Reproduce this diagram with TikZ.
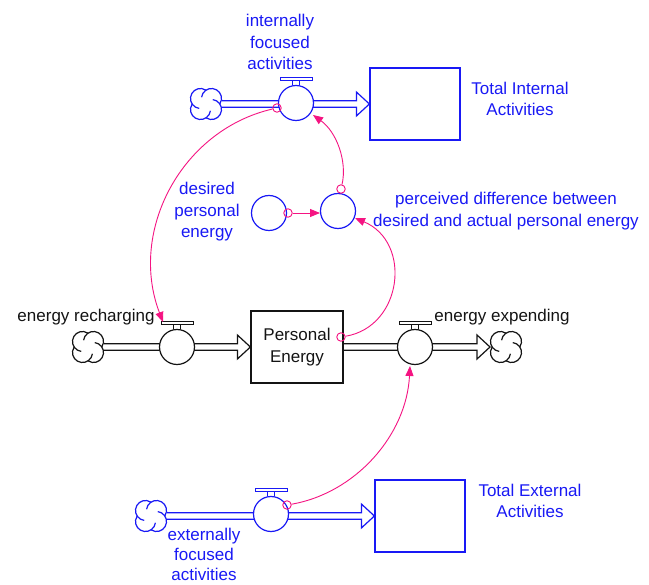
\documentclass[tikz,border=0pt]{standalone}
\usepackage{fontspec}
\setmainfont{Liberation Sans}
\usetikzlibrary{calc,arrows.meta}
\definecolor{vblue}{RGB}{25,25,245}
\definecolor{vpink}{RGB}{245,20,130}
\definecolor{vblack}{RGB}{20,20,20}
\newcommand\flowpipe[3]{%
  \draw[#3, line width=1.2pt, line join=miter]
    ($(#1)+(0,-3.2)$) -- ($(#2)+(-13,-3.2)$) -- ($(#2)+(-13,-12)$) -- (#2)
    -- ($(#2)+(-13,12)$) -- ($(#2)+(-13,3.2)$) -- ($(#1)+(0,3.2)$);}
\newcommand\valvetop[2]{%
  \draw[#2, line width=1pt, fill=white] ($(#1.north)+(-16,-7.5)$) rectangle ($(#1.north)+(16,-4)$);
  \draw[#2, line width=1pt] ($(#1.north)+(-3.3,-4)$) -- ($(#1.north)+(-3.3,0)$)
    ($(#1.north)+(3.3,-4)$) -- ($(#1.north)+(3.3,0)$);}
\tikzset{
  lbl/.style={font=\fontsize{17}{21.5}\selectfont, align=center, inner sep=0pt},
  lbltight/.style={font=\fontsize{17}{20}\selectfont, align=center, inner sep=0pt},
  valvenode/.style={circle, draw=#1, fill=white, line width=1.2pt, minimum size=35pt, inner sep=0pt},
  boxnode/.style={rectangle, draw=#1, fill=white, line width=1.2pt, minimum width=90pt, minimum height=72pt, inner sep=0pt},
  auxnode/.style={circle, draw=vblue, fill=white, line width=1.2pt, minimum size=35pt, inner sep=0pt},
  originnode/.style={circle, draw=vpink, line width=0.9pt, minimum size=8.5pt, inner sep=0pt},
  conn/.style={vpink, line width=0.9pt, -{Triangle[length=10pt,width=8pt]}},
  pics/cloudicon/.style={code={
    \foreach \p in {45,135,225,315}{
      \pgfmathsetmacro\cs{\p-128}
      \pgfmathsetmacro\ce{\p+78.4}
      \draw (\p:7.8) ++(\cs:10) arc[start angle=\cs, end angle=\ce, radius=10];
    }
  }},
}
\begin{document}
\begin{tikzpicture}[x=1pt,y=-1pt]
\fill[white] (0,0) rectangle (649,585);
\useasboundingbox (0,0) rectangle (649,585);

% positions
\coordinate (c1) at (206,104);
\coordinate (c2) at (88,347);
\coordinate (c3) at (506,347);
\coordinate (c4) at (151,516);

% stocks
\node[boxnode=vblue] (b1) at (415,104) {};
\node[boxnode=vblack, minimum width=92pt, lbl, text=vblack] (pe) at (297,347) {Personal\\Energy};
\node[boxnode=vblue] (b3) at (420,516) {};

% pipes
\flowpipe{$(c1)+(16,0)$}{b1.west}{vblue}
\flowpipe{$(c2)+(16,0)$}{pe.west}{vblack}
\flowpipe{pe.east}{$(c3)+(-16,0)$}{vblack}
\flowpipe{$(c4)+(16,0)$}{b3.west}{vblue}

% clouds
\pic[vblue, line width=1.2pt] at (c1) {cloudicon};
\pic[vblack, line width=1.2pt] at (c2) {cloudicon};
\pic[vblack, line width=1.2pt] at (c3) {cloudicon};
\pic[vblue, line width=1.2pt] at (c4) {cloudicon};

% valves
\node[valvenode=vblue] (v1) at (296,103) {};
\valvetop{v1}{vblue}
\node[valvenode=vblack] (v2) at (177,347) {};
\valvetop{v2}{vblack}
\node[valvenode=vblack] (v3) at (415,347) {};
\valvetop{v3}{vblack}
\node[valvenode=vblue] (v4) at (271,514) {};
\valvetop{v4}{vblue}

% auxiliaries
\node[auxnode] (dpe) at (269,213) {};
\node[auxnode] (pd) at (338,211) {};

% labels
\node[lbl, text=vblue] (lifa) at (280,42) {internally\\focused\\activities};
\node[lbl, text=vblue] (ltia) at (520,99) {Total Internal\\Activities};
\node[lbl, text=vblue] (ldpe) at (207,212) {desired\\personal\\energy};
\node[lbl, text=vblue] (lpd) at (506,211) {perceived difference between\\desired and actual personal energy};
\node[lbl, text=vblack] (ler) at (86,317) {energy recharging};
\node[lbl, text=vblack] (lee) at (502,317) {energy expending};
\node[lbl, text=vblue] (ltea) at (530,501) {Total External\\Activities};
\node[lbltight, text=vblue] (lefa) at (204,554) {externally\\focused\\activities};

% connectors
\node[originnode] (s1) at (277,108) {};
\node[originnode] (s2) at (341,189) {};
\node[originnode] (s3) at (341,337) {};
\node[originnode] (s4) at (287,505) {};
\node[originnode] (s5) at (288,213) {};
\coordinate (t1) at (163,322);
\coordinate (t2) at (313,115);
\coordinate (t3) at (355,218);
\coordinate (t4) at (410,366);
\coordinate (t5) at (320,213);
\draw[conn] (s1) .. controls (181.8,129.8) and (128.1,230.8) .. (t1);
\draw[conn] (s2) .. controls (347.4,160.9) and (336.4,131.8) .. (t2);
\draw[conn] (s3) .. controls (402.5,326.7) and (412.5,242.3) .. (t3);
\draw[conn] (s4) .. controls (355.4,493.1) and (406.5,435.3) .. (t4);
\draw[conn] (s5) -- (t5);
\end{tikzpicture}
\end{document}
